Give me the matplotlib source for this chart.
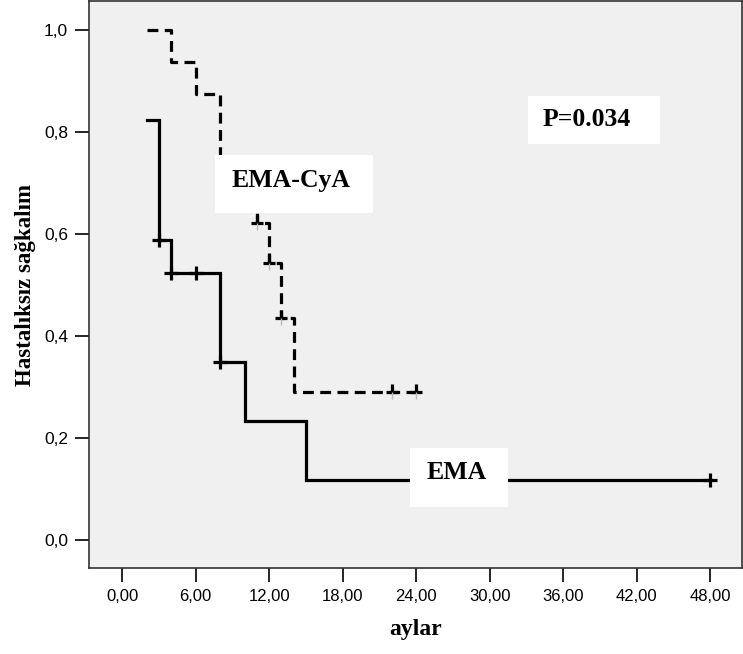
import numpy as np
import matplotlib
matplotlib.use("Agg")
import matplotlib.pyplot as plt
from matplotlib.patches import Rectangle

# Data: Kaplan-Meier steps
cya_times = [2, 4, 6, 8, 11, 12, 13, 14, 24]
cya_surv = [1.0, 0.9375, 0.875, 0.75, 0.622, 0.543, 0.435, 0.29, 0.29]
cya_censor = [11, 12, 13, 22, 24]

ema_times = [2, 3, 4, 8, 10, 15, 48]
ema_surv = [0.8235, 0.588, 0.5235, 0.349, 0.233, 0.117, 0.117]
ema_censor = [3, 4, 6, 8, 48]

xticks = [0, 6, 12, 18, 24, 30, 36, 42, 48]
xtick_labels = ["0,00", "6,00", "12,00", "18,00", "24,00", "30,00", "36,00", "42,00", "48,00"]
yticks = [0.0, 0.2, 0.4, 0.6, 0.8, 1.0]
ytick_labels = ["0,0", "0,2", "0,4", "0,6", "0,8", "1,0"]

def step_val(times, surv, t):
    i = np.searchsorted(times, t, side="right") - 1
    return surv[max(i, 0)]

fig = plt.figure(figsize=(7.43, 6.54), dpi=100)
ax = fig.add_axes([89/743, 86/654, (742-89)/743, (568-1)/654])
ax.set_facecolor("#F0F0F0")

serif = "Liberation Serif"
sans = "Liberation Sans"

ax.step(ema_times, ema_surv, where="post", color="black", lw=2.3, zorder=3, solid_joinstyle="miter")
ax.step(cya_times, cya_surv, where="post", color="black", lw=2.3, zorder=3,
        linestyle=(0, (3.4, 2.0)))

ey = [step_val(ema_times, ema_surv, t) for t in ema_censor]
ax.plot(ema_censor, ey, linestyle="none", marker="+", ms=10, mew=2.3, color="black", zorder=4)

cy = [step_val(cya_times, cya_surv, t) for t in cya_censor]
ax.plot(cya_censor, cy, linestyle="none", marker=2, ms=6, mew=2.3, color="black", zorder=4)
ax.plot(cya_censor, cy, linestyle="none", marker="_", ms=9, mew=2.3, color="black", zorder=4)
ax.plot(cya_censor, cy, linestyle="none", marker=3, ms=5, mew=1.0, color="#BBBBBB", zorder=4)

ax.set_xlim(-2.7, 50.6)
ax.set_ylim(-0.055, 1.057)

ax.set_xticks(xticks)
ax.set_xticklabels(xtick_labels, fontfamily=sans, fontsize=12)
ax.set_yticks(yticks)
ax.set_yticklabels(ytick_labels, fontfamily=sans, fontsize=12.5)
ax.tick_params(axis="both", length=10, width=1.2, color="black", direction="out", pad=5)

for s in ax.spines.values():
    s.set_color("#333333")
    s.set_linewidth(1.2)

ax.set_xlabel("aylar", fontfamily=serif, fontweight="bold", fontsize=17, labelpad=11)
ax.set_ylabel("Hastalıksız sağkalım", fontfamily=serif, fontweight="bold", fontsize=16.5, labelpad=6)

# label boxes
boxes = [
    ((7.6, 0.641), 20.5 - 7.6, 0.755 - 0.641, "EMA-CyA", (13.8, 0.705)),
    ((23.5, 0.065), 31.5 - 23.5, 0.18 - 0.065, "EMA", (27.3, 0.132)),
    ((33.1, 0.776), 43.9 - 33.1, 0.871 - 0.776, "P=0.034", (37.9, 0.824)),
]
for (xy, w, h, txt, tpos) in boxes:
    ax.add_patch(Rectangle(xy, w, h, facecolor="white", edgecolor="none", zorder=5))
    ax.text(tpos[0], tpos[1], txt, ha="center", va="center", fontfamily=serif,
            fontweight="bold", fontsize=18.5, zorder=6)

fig.savefig("out.png", dpi=100)
